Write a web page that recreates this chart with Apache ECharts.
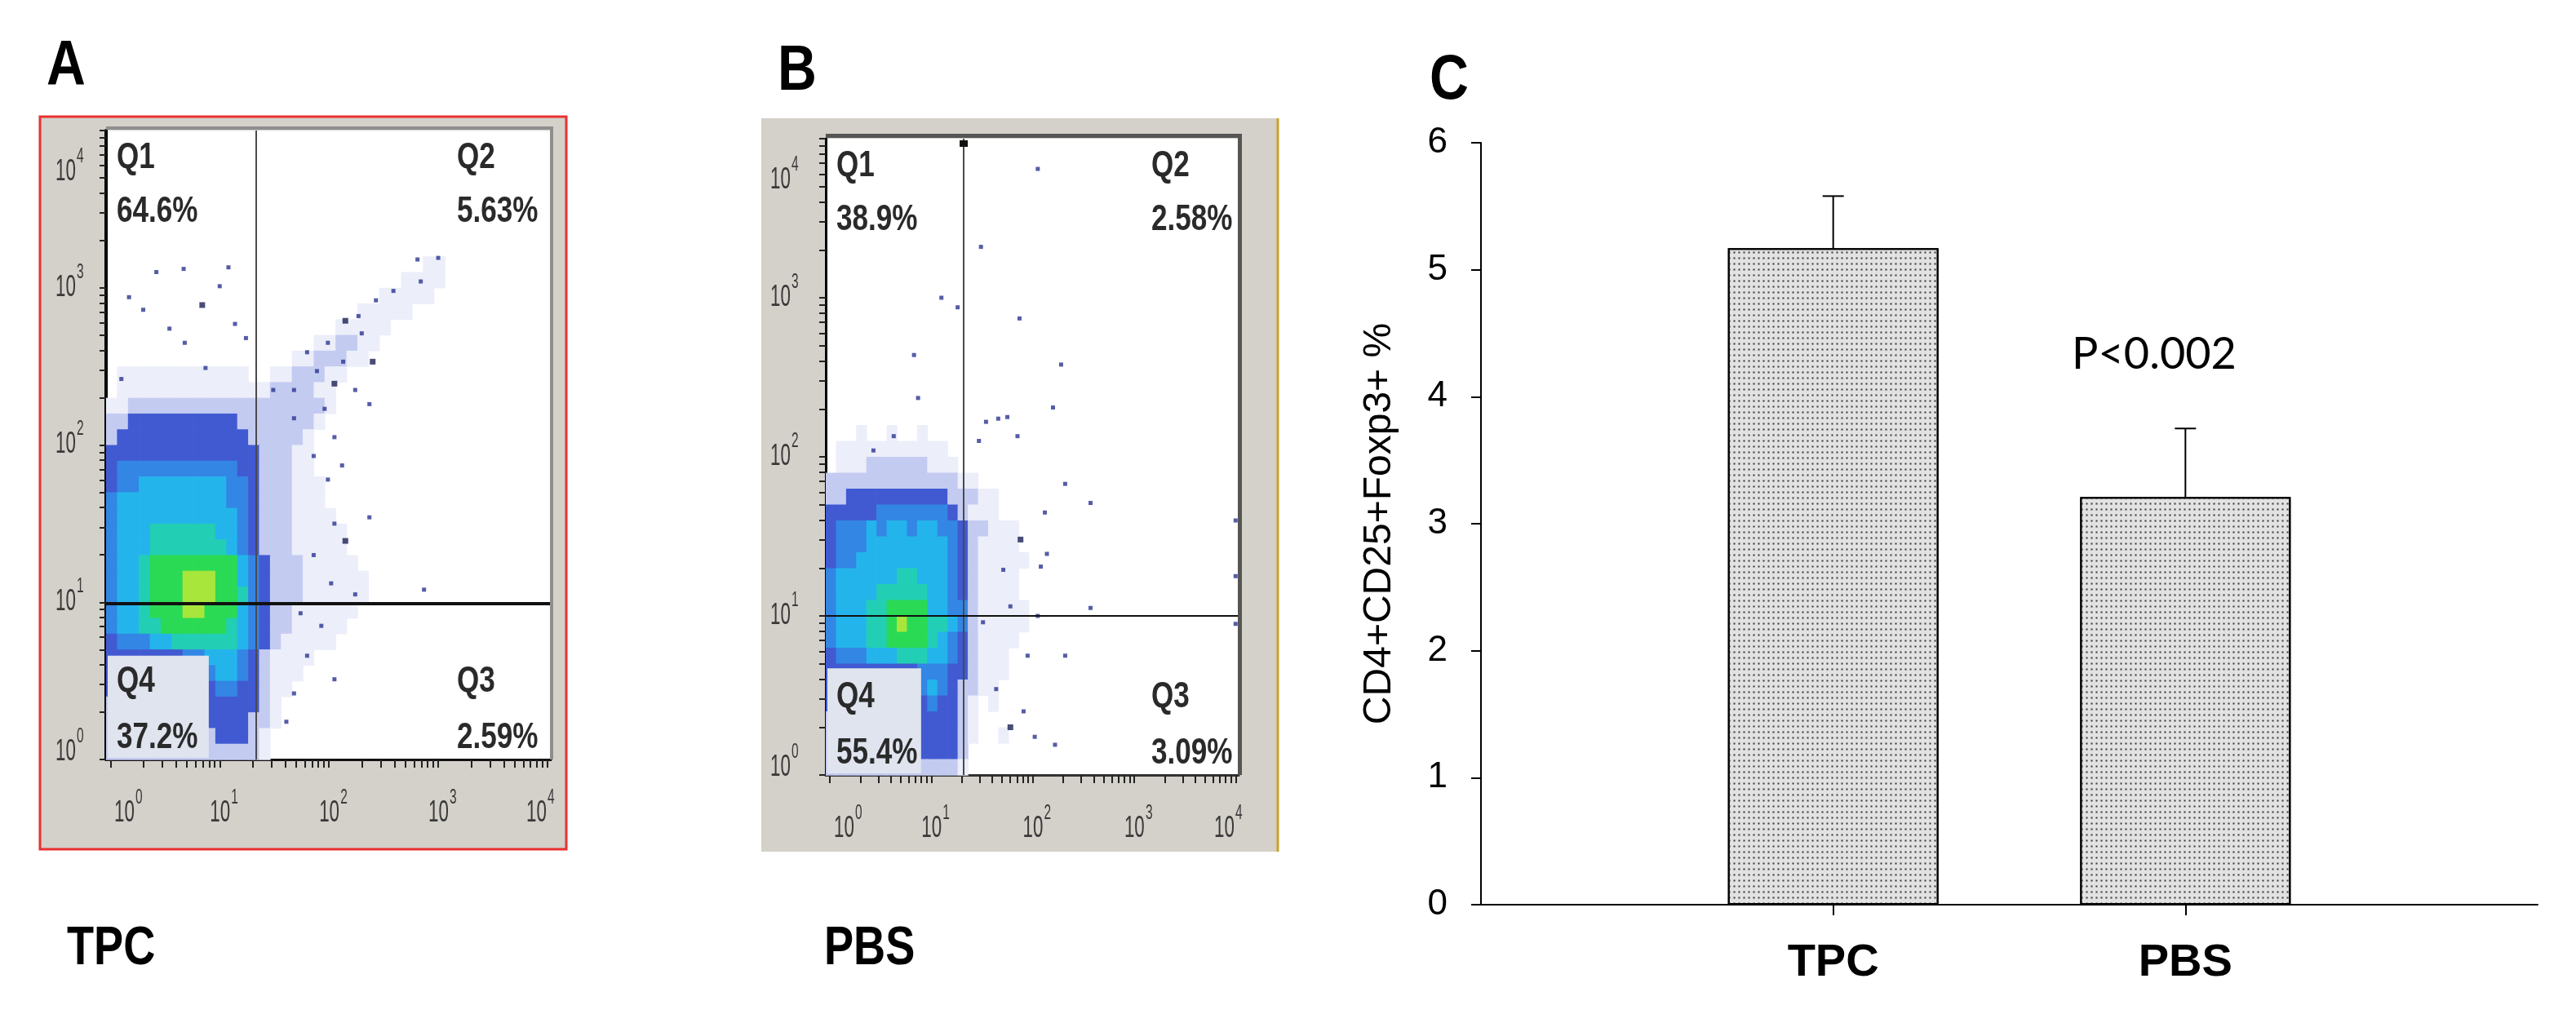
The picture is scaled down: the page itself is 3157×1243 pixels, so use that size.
<!DOCTYPE html>
<html lang="en">
<head>
<meta charset="UTF-8">
<title>Treg flow cytometry and CD4+CD25+Foxp3+ %</title>
<script src="https://cdn.jsdelivr.net/npm/echarts@6/dist/echarts.min.js"></script>
<style>
  html, body { margin: 0; padding: 0; background: #fff; }
  #main { width: 3157px; height: 1243px; }
</style>
</head>
<body>
<div id="main"></div>
<script>
// ---------- values ----------
// flow panels: axes are log10 units (0 -> 10^0 ... 4 -> 10^4)
var decades = [0, 1, 2, 3, 4];
var quadNames = ['Q1', 'Q2', 'Q3', 'Q4'];
var pctA = ['64.6%', '5.63%', '2.59%', '37.2%'];
var pctB = ['38.9%', '2.58%', '3.09%', '55.4%'];
var gateA = [1.33, 0.99];   // [vertical gate x, horizontal gate y]
var gateB = [1.32, 1.0];
var q4BoxA = [0.90, 0.66];  // label box corner (x, y)
var q4BoxB = [0.90, 0.67];

// density grid, 0.1 decade cells; each row = [first column, levels] from top (y 3.1-3.2) down to y 0-0.1
// column 0 starts at x = -0.04; '|' is only a reading aid, '.' empty; 1 faint ... 8 densest
var densityA = [
  [29, '11'],
  [27, '1111'],
  [25, '11111'],
  [23, '11111'],
  [21, '11111'],
  [19, '11|22|11'],
  [17, '11|222|11'],
  [1, '111111|111111|..|11|222|11'],
  [1, '1111111|1111111|2222|11'],
  [0, '11|222222222|222222222|1'],
  [0, '22|3333333333|2|222222|1'],
  [0, '2|333333333333|2|2222|1'],
  [0, '3333333|3333333|222|11'],
  [0, '3|44444444444|33|222|11'],
  [0, '3|44|55555555|44|3|222|111'],
  [0, '4|5555555555|44|3|222|111'],
  [0, '4|55555555555|4|3|222|1111'],
  [0, '4|555|666666|55|4|3|222|11111'],
  [0, '4|555|6666666|5|4|3|222|11111'],
  [0, '4|55|6|77777777|5|4|3|222|11111'],
  [0, '4|55|6|777|888|77|5|4|3|222|111111'],
  [0, '4|55|6|777|888|77|6|4|3|222|111111'],
  [0, '4|55|6|777|88|777|5|4|3|22|111111'],
  [0, '4|55|66|777777|6|5|4|3|22|11111'],
  [0, '3|444|55|666666|5|4|3|2|11111'],
  [0, '3333333|44|555|4|3|2|1111'],
  [0, '333333333|4|55|4|3|2|111'],
  [0, '3333333333|44|33|2|11'],
  [0, '222222222|33333|2|1'],
  [0, '222222222|3333|22|1'],
  [0, '2222222222|333|2|1'],
  [0, '22222222222222|1']
];
var densityB = [
  [3, '1..1..1'],
  [1, '11111111111'],
  [1, '111|222222|111'],
  [0, '2222222222222|11'],
  [0, '22|3333333333|222|11'],
  [0, '33333|4444444|3|2|111'],
  [0, '3|444|5|4|55|4|55|44|3|22|111'],
  [0, '3|444|55555555|4|3|2|1111'],
  [0, '3|44|555555555|4|3|2|11111'],
  [0, '4|555555|66|555|4|3|2|1111'],
  [0, '4|5555|66666|55|4|3|2|1111'],
  [0, '4|555|66|7777|55|44|2|11111'],
  [0, '4|555|66|7|8|77|66|5|4|2|11111'],
  [0, '4|555|66|7777|6|5|4|3|2|1111'],
  [0, '3|444|555|666|55|4|3|2|111'],
  [0, '333333333|444|33|2|111'],
  [0, '333333333|4|5|4|3|22|11'],
  [0, '3333333333|4|33|2|1|.|1'],
  [0, '222222222|3333|2|1'],
  [0, '222222222|3333|2|1|..|1'],
  [0, '222222222|3333|2'],
  [0, '2222222222222|1']
];
// isolated events
var dotsA = [
  [0.42, 3.10], [0.67, 3.12], [1.00, 3.01], [1.08, 3.13], [0.17, 2.94], [0.30, 2.86], [1.14, 2.77],
  [0.54, 2.74], [0.10, 2.42], [1.24, 2.68], [0.87, 2.49], [0.68, 2.65],
  [2.81, 3.18], [3.00, 3.19], [2.84, 3.04], [2.59, 2.98], [2.43, 2.92], [2.27, 2.82], [2.30, 2.71],
  [1.99, 2.65], [1.80, 2.59], [1.89, 2.47], [2.13, 2.53], [2.24, 2.35], [1.68, 2.35], [2.37, 2.26],
  [1.49, 2.35], [1.68, 2.17], [1.96, 2.23], [2.05, 2.05], [1.86, 1.93], [2.12, 1.87], [1.99, 1.78],
  [2.05, 1.50], [2.02, 1.12], [2.37, 1.54], [1.86, 1.30], [1.93, 0.85], [2.05, 0.51], [1.80, 0.66],
  [1.68, 0.42], [2.24, 1.05], [2.87, 1.08], [1.74, 0.93], [1.61, 0.24]
];
var darkA = [[0.84, 2.89], [2.15, 2.79], [2.40, 2.53], [2.05, 2.39], [2.15, 1.39]];
var dotsB = [
  [2.05, 3.81], [1.49, 3.32], [1.10, 3.00], [1.26, 2.94], [1.87, 2.87], [2.28, 2.58], [0.83, 2.64],
  [0.87, 2.37], [2.20, 2.31], [1.66, 2.24], [1.75, 2.25], [1.54, 2.22], [1.85, 2.13], [2.32, 1.83],
  [2.57, 1.71], [1.47, 2.10], [0.63, 2.13], [0.43, 2.04], [2.12, 1.65], [2.14, 1.39], [2.08, 1.31],
  [1.71, 1.29], [2.05, 1.00], [2.57, 1.05], [1.95, 0.75], [2.32, 0.75], [1.64, 0.54], [1.91, 0.40],
  [2.22, 0.19], [2.02, 0.24], [1.51, 0.96], [1.78, 1.06], [4.0, 1.6], [4.0, 1.25], [4.0, 0.95]
];
var darkB = [[1.88, 1.48], [1.78, 0.30]];

// bar panel
var groups = ['TPC', 'PBS'];
var means = [5.17, 3.21];
var sems = [0.41, 0.54];
var pText = 'P<0.002';
var yName = 'CD4+CD25+Foxp3+ %';

// ---------- helpers ----------
var CELL = 0.1, X0 = -0.04;
var levelColors = ['', '#eceefa', '#c4cbf1', '#415ad2', '#3386e4', '#24b4ec', '#22ceb4', '#2bda54', '#a8e63c'];
var ARIAL = "'Liberation Sans',Arial,sans-serif";

function toCells(rows) {
  var out = [];
  rows.forEach(function (row, k) {
    var j = rows.length - 1 - k;
    var s = row[1].replace(/\|/g, '');
    for (var i = 0; i < s.length; i++) {
      var c = s.charAt(i);
      if (c >= '1' && c <= '9') out.push([X0 + (row[0] + i) * CELL, j * CELL, +c]);
    }
  });
  return out;
}

// log tick positions (1..9 x 10^n)
var tickVals = [];
for (var n = 0; n < 4; n++) {
  for (var k = 1; k < 10; k++) tickVals.push(n + Math.log10(k));
}
tickVals.push(4);

function cellRender(params, api) {
  var x = api.value(0), y = api.value(1), lv = api.value(2);
  var p0 = api.coord([x, y + CELL]);
  var p1 = api.coord([x + CELL, y]);
  return {
    type: 'rect',
    shape: { x: p0[0], y: p0[1], width: p1[0] - p0[0] + 0.7, height: p1[1] - p0[1] + 0.7 },
    style: { fill: levelColors[lv] }
  };
}

function errRender(params, api) {
  var i = api.value(0), m = api.value(1), e = api.value(2);
  var base = api.coord([i, m]);
  var top = api.coord([i, m + e]);
  var style = { stroke: '#000', lineWidth: 2 };
  return {
    type: 'group',
    children: [
      { type: 'line', shape: { x1: base[0], y1: base[1], x2: top[0], y2: top[1] }, style: style },
      { type: 'line', shape: { x1: top[0] - 13, y1: top[1], x2: top[0] + 13, y2: top[1] }, style: style }
    ]
  };
}

function flowX(gi, lineW, lineC) {
  return {
    type: 'value', gridIndex: gi, min: X0, max: 4.03,
    axisLine: { show: true, onZero: false, lineStyle: { color: lineC, width: lineW } },
    axisTick: { show: true, customValues: tickVals, length: 10, lineStyle: { color: '#222', width: 2 } },
    axisLabel: { show: false },
    splitLine: { show: false }
  };
}
function flowY(gi, lineW) {
  return {
    type: 'value', gridIndex: gi, min: 0, max: 4,
    axisLine: { show: true, onZero: false, lineStyle: { color: '#000', width: lineW } },
    axisTick: { show: true, customValues: tickVals, length: 8, lineStyle: { color: '#222', width: 2 } },
    axisLabel: { show: false },
    splitLine: { show: false }
  };
}

function flowSeries(gi, rows, dots, dark, gate, hLineW) {
  return [
    {
      type: 'custom', xAxisIndex: gi, yAxisIndex: gi, renderItem: cellRender,
      data: toCells(rows), silent: true, z: 2
    },
    {
      type: 'scatter', xAxisIndex: gi, yAxisIndex: gi, symbol: 'rect', symbolSize: 5,
      itemStyle: { color: '#2b3590', opacity: 0.8 }, data: dots, silent: true, z: 3
    },
    {
      type: 'scatter', xAxisIndex: gi, yAxisIndex: gi, symbol: 'rect', symbolSize: 7,
      itemStyle: { color: '#1b1f55' }, data: dark, silent: true, z: 3,
      markLine: {
        silent: true, symbol: 'none', label: { show: false }, animation: false,
        data: [
          { xAxis: gate[0], lineStyle: { color: '#4a4a4a', width: 2, type: 'solid' } },
          { yAxis: gate[1], lineStyle: { color: '#111', width: hLineW, type: 'solid' } }
        ]
      }
    }
  ];
}

var catData = [''].concat(groups).concat(['']);
var barData = [null].concat(means).concat([null]);
var errData = groups.map(function (g, i) { return [i + 1, means[i], sems[i]]; });
function notBlank(i, v) { return v !== ''; }

var option = {
  animation: false,
  backgroundColor: '#fff',
  grid: [
    { left: 130, top: 160, width: 545, height: 771, show: true, backgroundColor: '#fff', borderWidth: 0 },
    { left: 1012, top: 170, width: 506, height: 780, show: true, backgroundColor: '#fff', borderWidth: 0 },
    { left: 1815, top: 175, width: 1295, height: 934, show: false }
  ],
  xAxis: [
    flowX(0, 3, '#111'),
    flowX(1, 3, '#333'),
    {
      type: 'category', gridIndex: 2, data: catData, boundaryGap: false,
      axisLine: { lineStyle: { color: '#000', width: 2 } },
      axisTick: { interval: notBlank, length: 13, lineStyle: { color: '#000', width: 2 } },
      axisLabel: { interval: notBlank, fontSize: 56, fontWeight: 'bold', color: '#000', fontFamily: ARIAL, margin: 44 }
    }
  ],
  yAxis: [
    flowY(0, 4),
    flowY(1, 3),
    {
      type: 'value', gridIndex: 2, min: 0, max: 6, interval: 1,
      name: yName, nameLocation: 'middle', nameGap: 100,
      nameTextStyle: { fontSize: 48, color: '#000', fontFamily: ARIAL },
      axisLine: { show: true, lineStyle: { color: '#000', width: 2 } },
      axisTick: { show: true, length: 12, lineStyle: { color: '#000', width: 2 } },
      axisLabel: { fontSize: 44, color: '#000', fontFamily: ARIAL, margin: 41 },
      splitLine: { show: false }
    }
  ],
  series: flowSeries(0, densityA, dotsA, darkA, gateA, 4)
    .concat(flowSeries(1, densityB, dotsB, darkB, gateB, 2))
    .concat([
      {
        type: 'bar', xAxisIndex: 2, yAxisIndex: 2, data: barData, barWidth: 258,
        itemStyle: {
          color: '#e2e2e2', borderColor: '#000', borderWidth: 2,
          decal: { symbol: 'rect', symbolSize: 0.7, color: 'rgba(50,50,50,0.9)', dashArrayX: [3, 3], dashArrayY: [3, 4] }
        },
        silent: true, z: 2
      },
      {
        type: 'custom', xAxisIndex: 2, yAxisIndex: 2, renderItem: errRender, data: errData, silent: true, z: 3
      }
    ])
};

var chart = echarts.init(document.getElementById('main'));
chart.setOption(option);

// ---------- frames, tick labels, quadrant labels and panel titles ----------
function px(gi, pt) { return chart.convertToPixel({ gridIndex: gi }, pt); }
function label(x, y, str, font, sx, extra) {
  var st = Object.assign({ text: str, font: font, fill: '#1a1a1a', textVerticalAlign: 'middle' }, extra || {});
  return { type: 'text', x: x, y: y, scaleX: sx, z: 60, style: st };
}

var gfx = [];
// panel A frame (red) and grey backdrop
gfx.push({ type: 'rect', z: -10, shape: { x: 49, y: 143, width: 645, height: 898 }, style: { fill: '#d4d0ca', stroke: '#e8312f', lineWidth: 3 } });
// panel B grey backdrop with gold edge
gfx.push({ type: 'rect', z: -10, shape: { x: 933, y: 145, width: 634, height: 899 }, style: { fill: '#d4d0ca' } });
gfx.push({ type: 'line', z: -9, shape: { x1: 1566, y1: 145, x2: 1566, y2: 1044 }, style: { stroke: '#c9a227', lineWidth: 3 } });

// grey plot frames (top and right edges)
[[0, '#8e8e8e', 6], [1, '#555', 7]].forEach(function (f) {
  var g = option.grid[f[0]];
  var r = g.left + g.width, t = g.top;
  gfx.push({ type: 'polyline', z: 40, shape: { points: [[g.left, t - f[2] / 2], [r + f[2] / 2 - 2, t - f[2] / 2], [r + f[2] / 2 - 2, t + g.height]] }, style: { stroke: f[1], lineWidth: f[2] - 2, fill: null } });
});

// decade labels 10^n, condensed like the cytometer export
var tenF = "36px 'Liberation Sans',Arial,sans-serif", expF = "25px 'Liberation Sans',Arial,sans-serif";
function pow10(x, y, d, align) {
  var tx = align === 'center' ? x - 12 : x - 25;
  gfx.push(label(tx, y, '10', tenF, 0.62, { fill: '#3a3a3a' }));
  gfx.push(label(tx + 26, y - 19, String(d), expF, 0.62, { fill: '#3a3a3a' }));
}
[[0, 37], [1, 43]].forEach(function (a) {
  var gi = a[0], g = option.grid[gi];
  var l = g.left, r = g.left + g.width, t = g.top, b = g.top + g.height;
  decades.forEach(function (d) {
    var xp = Math.min(Math.max(px(gi, [d, 0])[0], l + 22), r - 18);
    pow10(xp, b + 66, d, 'center');
    var yp = Math.min(Math.max(px(gi, [X0, d])[1], t + 51), b - 9);
    pow10(l - a[1], yp, d, 'right');
  });
});

// Q4 label boxes
[[0, q4BoxA], [1, q4BoxB]].forEach(function (b) {
  var p0 = px(b[0], [X0, b[1][1]]);
  var p1 = px(b[0], [b[1][0], 0]);
  gfx.push({ type: 'rect', z: 50, shape: { x: p0[0] + 2, y: p0[1], width: p1[0] - p0[0] - 2, height: p1[1] - p0[1] - 2 }, style: { fill: '#dfe4ef' } });
});
// gate handle on B
var gh = px(1, [gateB[0], 4]);
gfx.push({ type: 'rect', z: 55, shape: { x: gh[0] - 5, y: gh[1] + 2, width: 10, height: 8 }, style: { fill: '#111' } });

// quadrant labels
var qFont = "bold 45px 'Liberation Sans',Arial,sans-serif";
function quadLabels(gi, pct, rightX) {
  var g = option.grid[gi];
  var l = g.left + 13, t = g.top, b = g.top + g.height;
  var c = { fill: '#2a2a2a' };
  gfx.push(label(l, t + 34, quadNames[0], qFont, 0.78, c));
  gfx.push(label(l, t + 100, pct[0], qFont, 0.78, c));
  gfx.push(label(rightX, t + 34, quadNames[1], qFont, 0.78, c));
  gfx.push(label(rightX, t + 100, pct[1], qFont, 0.78, c));
  gfx.push(label(rightX, b - 95, quadNames[2], qFont, 0.78, c));
  gfx.push(label(rightX, b - 26, pct[2], qFont, 0.78, c));
  gfx.push(label(l, b - 95, quadNames[3], qFont, 0.78, c));
  gfx.push(label(l, b - 26, pct[3], qFont, 0.78, c));
}
quadLabels(0, pctA, 560);
quadLabels(1, pctB, 1411);

// panel letters and captions
var letterF = "bold 78px 'Liberation Sans',Arial,sans-serif";
gfx.push(label(57, 82, 'A', letterF, 0.85, { fill: '#000' }));
gfx.push(label(953, 88, 'B', letterF, 0.85, { fill: '#000' }));
gfx.push(label(1752, 99, 'C', letterF, 0.85, { fill: '#000' }));
var capF = "bold 66px 'Liberation Sans',Arial,sans-serif";
gfx.push(label(82, 1164, groups[0], capF, 0.82, { fill: '#000' }));
gfx.push(label(1010, 1164, groups[1], capF, 0.82, { fill: '#000' }));
// significance note
gfx.push(label(2640, 435, pText, "54px Lato,'Open Sans',sans-serif", 1, { fill: '#000', textAlign: 'center' }));

chart.setOption({ graphic: { elements: gfx } });
</script>
</body>
</html>
